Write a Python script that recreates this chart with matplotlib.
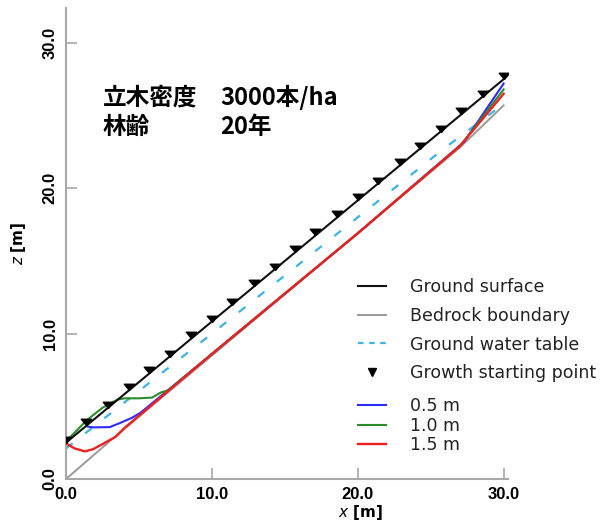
import matplotlib
matplotlib.use("Agg")
import matplotlib.pyplot as plt
from matplotlib.lines import Line2D

# ---------------- data ----------------
surface_x = [0.0, 30.0]
surface_z = [2.5, 27.5]

bedrock_x = [0.0, 3.0, 27.0, 30.0]
bedrock_z = [0.0, 2.6, 22.8, 25.7]

water_x = [0.0, 10.0, 20.0, 26.0, 30.0]
water_z = [2.1, 10.0, 18.0, 22.8, 25.8]

growth_x = [0.0, 1.4, 2.9, 4.3, 5.7, 7.1, 8.6, 10.0, 11.4, 12.9, 14.3,
            15.7, 17.1, 18.6, 20.0, 21.4, 22.9, 24.3, 25.7, 27.1, 28.6, 30.0]
growth_z = [2.5, 3.7, 4.9, 6.1, 7.3, 8.4, 9.7, 10.8, 12.0, 13.3, 14.4,
            15.6, 16.8, 18.0, 19.2, 20.3, 21.6, 22.7, 23.9, 25.1, 26.3, 27.5]

d05_x = [1.5, 1.85, 3.0, 3.7, 4.5, 5.1, 10.0, 20.0, 27.3, 30.0]
d05_z = [3.6, 3.55, 3.57, 3.85, 4.2, 4.55, 8.6, 16.9, 23.2, 27.2]

d10_x = [0.0, 0.7, 1.43, 2.5, 3.5, 4.0, 5.0, 5.9, 6.5, 7.0, 10.0, 20.0, 27.1, 30.0]
d10_z = [2.6, 3.3, 4.05, 4.9, 5.45, 5.55, 5.55, 5.6, 5.95, 6.1, 8.6, 16.9, 23.0, 26.8]

d15_x = [0.0, 0.6, 1.3, 1.85, 2.5, 3.4, 4.0, 10.0, 20.0, 27.0, 30.0]
d15_z = [2.45, 2.1, 1.9, 2.05, 2.4, 2.9, 3.5, 8.6, 16.9, 22.9, 26.5]

x_ticks = [0, 10, 20, 30]
y_ticks = [0, 10, 20, 30]
tick_labels = ["0.0", "10.0", "20.0", "30.0"]

# ---------------- figure ----------------
fig = plt.figure(figsize=(6.14, 5.23), dpi=100)
ax = fig.add_axes([66 / 614, 44 / 523, 442 / 614, 471 / 523])
ax.set_xlim(0, 30.3)
ax.set_ylim(0, 32.4)

spine_col = "#a8a8a8"
for s in ["top", "right"]:
    ax.spines[s].set_visible(False)
for s in ["left", "bottom"]:
    ax.spines[s].set_color(spine_col)
    ax.spines[s].set_linewidth(1.5)

ax.set_xticks(x_ticks)
ax.set_xticklabels(tick_labels)
ax.set_yticks(y_ticks)
ax.set_yticklabels(tick_labels, rotation=90, va="center")
ax.tick_params(direction="in", length=8, width=1.2, color=spine_col,
               labelsize=12, pad=6)
for lab in ax.get_xticklabels() + ax.get_yticklabels():
    lab.set_fontweight("bold")
    lab.set_fontfamily("Liberation Sans")

line_bed, = ax.plot(bedrock_x, bedrock_z, color="#9a9a9a", lw=1.4, zorder=2)
line_wt, = ax.plot(water_x, water_z, color="#3cb4e6", lw=1.6,
                   linestyle=(0, (3.8, 7.2)), zorder=2)
line_b, = ax.plot(d05_x, d05_z, color="#2b2bff", lw=1.5, zorder=3)
line_g, = ax.plot(d10_x, d10_z, color="#2a8c2a", lw=1.5, zorder=4)
line_r, = ax.plot(d15_x, d15_z, color="#ee2020", lw=1.7, zorder=5)
line_s, = ax.plot(surface_x, surface_z, color="#111111", lw=1.5, zorder=6)

tri = [(0, 0), (-1, 1.2), (1, 1.2), (0, 0)]
ax.plot(growth_x, growth_z, linestyle="none", marker=tri, markersize=9,
        color="black", zorder=7)

# axis labels
plt.rcParams["mathtext.fontset"] = "stix"
ax.set_xlabel(r"$x$ $\mathbf{[m]}$", fontsize=11)
ax.xaxis.set_label_coords((360 - 66) / 442, (479 - 503) / 471)
ax.set_ylabel(r"$z$ $\mathbf{[m]}$", fontsize=11)
ax.yaxis.set_label_coords((28 - 66) / 442, (479 - 243) / 471)

# annotation
cjk = ["Noto Sans CJK JP", "DejaVu Sans"]
fs = 17
fig.text(103 / 614, 1 - 97 / 523, "立木密度", family=cjk, fontsize=fs,
         fontweight="bold", va="center", ha="left")
fig.text(220 / 614, 1 - 97 / 523, "3000本/ha", family=cjk, fontsize=fs,
         fontweight="bold", va="center", ha="left")
fig.text(103 / 614, 1 - 127 / 523, "林齢", family=cjk, fontsize=fs,
         fontweight="bold", va="center", ha="left")
fig.text(220 / 614, 1 - 127 / 523, "20年", family=cjk, fontsize=fs,
         fontweight="bold", va="center", ha="left")

# legends
tri_handle = Line2D([], [], linestyle="none", marker="v", markersize=6,
                    color="black")
wt_handle = Line2D([], [], color="#3cb4e6", lw=1.6, linestyle=(0, (2.5, 2.5)))
leg_font = {"family": "DejaVu Sans", "size": 12.5}
leg1 = fig.legend([line_s, line_bed, wt_handle, tri_handle],
                  ["Ground surface", "Bedrock boundary", "Ground water table",
                   "Growth starting point"],
                  loc="upper left", bbox_to_anchor=(358 / 614, 1 - 278 / 523),
                  frameon=False, prop=leg_font, handlelength=1.6,
                  handletextpad=1.4, labelspacing=0.62, borderpad=0,
                  borderaxespad=0, labelcolor="#222222")
leg2 = fig.legend([line_b, line_g, line_r], ["0.5 m", "1.0 m", "1.5 m"],
                  loc="upper left", bbox_to_anchor=(358 / 614, 1 - 397 / 523),
                  frameon=False, prop=leg_font, handlelength=1.6,
                  handletextpad=1.4, labelspacing=0.1, borderpad=0,
                  borderaxespad=0, labelcolor="#222222")

fig.savefig("out.png", dpi=100)
